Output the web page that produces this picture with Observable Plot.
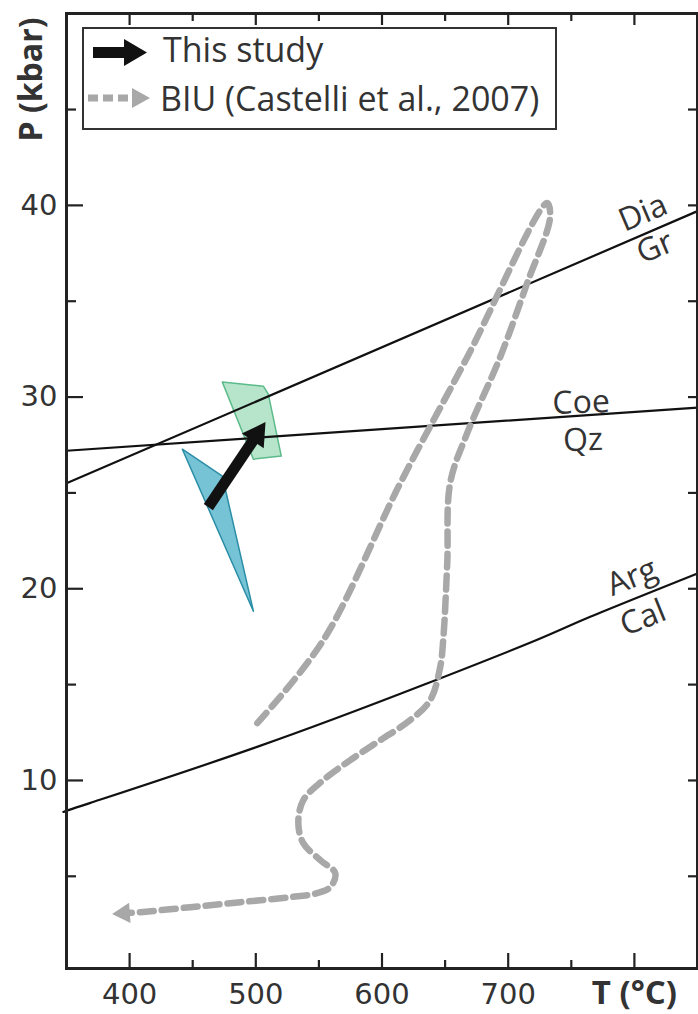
<!DOCTYPE html>
<html>
<head>
<meta charset="utf-8">
<script src="https://cdn.jsdelivr.net/npm/d3@7"></script>
<script src="https://cdn.jsdelivr.net/npm/@observablehq/plot@0.6"></script>
<style>
  body { margin: 0; background: #fff; }
  #wrap { position: relative; width: 698px; height: 1014px; overflow: hidden; }
  #legendBox { position: absolute; left: 82px; top: 27px; width: 475px; height: 103px; box-sizing: border-box;
               border: 2.5px solid #333; background: #fff; }
  .lt { position: absolute; font-family: "Open Sans"; font-size: 34px; line-height: 34px; color: #333; white-space: nowrap; }
</style>
</head>
<body>
<div id="wrap"></div>
<script>
// ---------- axis ticks ----------
const xTicksMajor = [400, 500, 600, 700, 800];
const xTickLabels = [400, 500, 600, 700];
const xTicksMinor = [450, 550, 650, 750];
const yTicksMajor = [10, 20, 30, 40];
const yTicksMinor = [5, 15, 25, 35, 45];
const xAxisTitle = "T (°C)";
const yAxisTitle = "P (kbar)";

// ---------- reaction lines (T °C, P kbar) ----------
const diaGrT = [350, 850];
const diaGrP = [25.5, 39.7];
const coeQzT = [350, 850];
const coeQzP = [27.2, 29.45];
const argCalT = [350, 369, 501, 633, 723, 765, 850];
const argCalP = [8.4, 8.83, 11.75, 14.99, 17.34, 18.54, 20.8];

// ---------- phase labels ----------
const labelText = ["Dia", "Gr", "Coe", "Qz", "Arg", "Cal"];
const labelT = [806.8, 816.3, 757.8, 759.3, 798.1, 806.8];
const labelP = [39.6, 37.8, 29.7, 27.75, 20.6, 18.47];
const labelRot = [-23, -23, -2, -2, -22, -22];

// ---------- BIU P-T path (Castelli et al., 2007) ----------
const biuT = [501.2, 553.5, 614.5, 667.5, 730.8,
              733.2, 715.0, 693.6, 667.5, 654.0, 651.7, 648.5, 646.1, 638.2, 622.4,
              598.6, 574.9, 553.5, 537.6, 533.7, 537.6, 551.1, 563.0, 559.0, 548.7,
              527.4, 487.8, 448.2, 408.6, 386.4];
const biuP = [12.99, 17.32, 25.51, 32.08, 40.12,
              39.38, 35.94, 32.08, 28.12, 25.51, 21.34, 17.32, 15.91, 14.19, 13.15,
              12.10, 11.06, 10.02, 8.97, 7.77, 6.73, 5.84, 5.16, 4.43, 4.12,
              3.91, 3.65, 3.39, 3.13, 3.03];

// ---------- this study ----------
const studyT = [462.4, 507.6];
const studyP = [24.26, 28.69];
const greenT = [473.5, 506.0, 509.9, 520.2, 498.1];
const greenP = [30.78, 30.57, 30.15, 26.92, 26.76];
const blueT = [441.8, 473.5, 498.1];
const blueP = [27.28, 25.87, 18.83];

// ---------- layout ----------
const W = 698, H = 1014, mL = 66, mR = 1, mT = 13, mB = 46;
const xDom = [350, 850], yDom = [0.19, 50.01];
const innerW = W - mL - mR, innerH = H - mT - mB;
const kx = innerW / (xDom[1] - xDom[0]);
const ky = innerH / (yDom[1] - yDom[0]);

const zip = (T, P) => T.map((t, i) => ({T: t, P: P[i]}));
const closed = (T, P) => { const a = zip(T, P); a.push(a[0]); return a; };

// arrowhead helper: centroid of a triangle whose tip sits at (t1,p1), pointing from (t0,p0)
function head(t0, p0, t1, p1, tipDist) {
  const dx = (t1 - t0) * kx, dy = -(p1 - p0) * ky;
  const len = Math.hypot(dx, dy);
  const f = tipDist / len;
  const ang = Math.atan2(dy, dx) * 180 / Math.PI;
  return {T: t1 - f * (t1 - t0), P: p1 - f * (p1 - p0), rot: ang + 90};
}

const nB = biuT.length;
const grayHead = head(biuT[nB - 2], biuP[nB - 2], biuT[nB - 1], biuP[nB - 1], 11.5);
const biuLine = zip(biuT.slice(0, nB - 1), biuP.slice(0, nB - 1));
biuLine.push({T: grayHead.T, P: grayHead.P});

const blackHead = head(studyT[0], studyP[0], studyT[1], studyP[1], 15);

const labels = labelText.map((s, i) => ({s, T: labelT[i], P: labelP[i], r: labelRot[i]}));

const tickFont = {fontFamily: "DejaVu Sans", fontSize: 29, fill: "#333"};

const plot = Plot.plot({
  width: W, height: H,
  marginLeft: mL, marginRight: mR, marginTop: mT, marginBottom: mB,
  x: {domain: xDom, label: null},
  y: {domain: yDom, label: null},
  style: {fontFamily: "Open Sans", background: "white", overflow: "visible"},
  marks: [
    // polygons
    Plot.line(closed(blueT, blueP), {x: "T", y: "P", fill: "#5fb8cf", fillOpacity: 0.85, stroke: "#2a8ea6", strokeWidth: 1.5, curve: "linear"}),
    Plot.line(closed(greenT, greenP), {x: "T", y: "P", fill: "#9fdcb9", fillOpacity: 0.75, stroke: "#5cbb8a", strokeWidth: 1.5, curve: "linear"}),
    // reaction lines
    Plot.line(zip(diaGrT, diaGrP), {x: "T", y: "P", stroke: "#111", strokeWidth: 2.2}),
    Plot.line(zip(coeQzT, coeQzP), {x: "T", y: "P", stroke: "#111", strokeWidth: 2.2}),
    Plot.line(zip(argCalT, argCalP), {x: "T", y: "P", stroke: "#111", strokeWidth: 2.2, curve: "natural"}),
    // BIU path
    Plot.line(biuLine, {x: "T", y: "P", stroke: "#a8a8a8", strokeWidth: 6.5, strokeDasharray: "14,8", curve: "catmull-rom"}),
    Plot.dot([grayHead], {x: "T", y: "P", symbol: "triangle", r: 7.6, fill: "#a8a8a8", stroke: "none", rotate: "rot"}),
    // this study arrow
    Plot.link([{T1: studyT[0], P1: studyP[0], T2: blackHead.T, P2: blackHead.P}],
      {x1: "T1", y1: "P1", x2: "T2", y2: "P2", stroke: "#111", strokeWidth: 11}),
    Plot.dot([blackHead], {x: "T", y: "P", symbol: "triangle", r: 9.8, fill: "#111", stroke: "none", rotate: "rot"}),
    // phase labels
    Plot.text(labels, {x: "T", y: "P", text: "s", rotate: "r", fontSize: 32, fontFamily: "Open Sans", fill: "#333"}),
    // inward ticks
    Plot.tickX(xTicksMajor, {x: d => d, insetTop: innerH - 15, stroke: "#222", strokeWidth: 2.2}),
    Plot.tickX(xTicksMinor, {x: d => d, insetTop: innerH - 8, stroke: "#222", strokeWidth: 2.2}),
    Plot.tickX(xTicksMajor, {x: d => d, insetBottom: innerH - 12, stroke: "#222", strokeWidth: 2.2}),
    Plot.tickX(xTicksMinor, {x: d => d, insetBottom: innerH - 8, stroke: "#222", strokeWidth: 2.2}),
    Plot.tickY(yTicksMajor, {y: d => d, insetRight: innerW - 17, stroke: "#222", strokeWidth: 2.2}),
    Plot.tickY(yTicksMinor, {y: d => d, insetRight: innerW - 10, stroke: "#222", strokeWidth: 2.2}),
    Plot.tickY(yTicksMajor, {y: d => d, insetLeft: innerW - 9, stroke: "#222", strokeWidth: 2.2}),
    Plot.tickY(yTicksMinor, {y: d => d, insetLeft: innerW - 9, stroke: "#222", strokeWidth: 2.2}),
    // tick labels
    Plot.axisX({ticks: xTickLabels, tickSize: 0, tickPadding: 15, label: null, ...tickFont}),
    Plot.axisY({ticks: yTicksMajor, tickSize: 0, tickPadding: 9, label: null, ...tickFont}),
    // axis titles
    Plot.text([xAxisTitle], {x: 800, frameAnchor: "bottom", dy: 25, text: d => d, fontSize: 33, fontWeight: "bold", fontFamily: "Open Sans", fill: "#333", lineAnchor: "middle"}),
    Plot.text([yAxisTitle], {frameAnchor: "top-left", dx: -35, dy: 66, rotate: -90, text: d => d, textAnchor: "middle", lineAnchor: "middle", fontSize: 32, fontWeight: "bold", fontFamily: "Open Sans", fill: "#333"}),
    // frame
    Plot.frame({stroke: "#222", strokeWidth: 3})
  ]
});

const wrap = document.getElementById("wrap");
wrap.appendChild(plot);

// legend (inside the plot area, top-left)
const box = document.createElement("div");
box.id = "legendBox";
wrap.appendChild(box);

const ns = "http://www.w3.org/2000/svg";
const icons = document.createElementNS(ns, "svg");
icons.setAttribute("width", "80");
icons.setAttribute("height", "130");
icons.style.position = "absolute";
icons.style.left = "80px";
icons.style.top = "25px";
icons.innerHTML = `
  <rect x="13" y="22" width="36" height="11" fill="#111"/>
  <polygon points="44,14 67,27.5 44,41" fill="#111"/>
  <line x1="8" y1="73" x2="55" y2="73" stroke="#a8a8a8" stroke-width="7" stroke-dasharray="10,5"/>
  <polygon points="52,63 70,73 52,83" fill="#a8a8a8"/>`;
wrap.appendChild(icons);

const legendItems = ["This study", "BIU (Castelli et al., 2007)"];
const legendTop = [32, 81];
legendItems.forEach((s, i) => {
  const sp = document.createElement("div");
  sp.className = "lt";
  sp.textContent = s;
  sp.style.left = (i === 0 ? 163 : 160) + "px";
  sp.style.top = legendTop[i] + "px";
  wrap.appendChild(sp);
});
</script>
</body>
</html>
